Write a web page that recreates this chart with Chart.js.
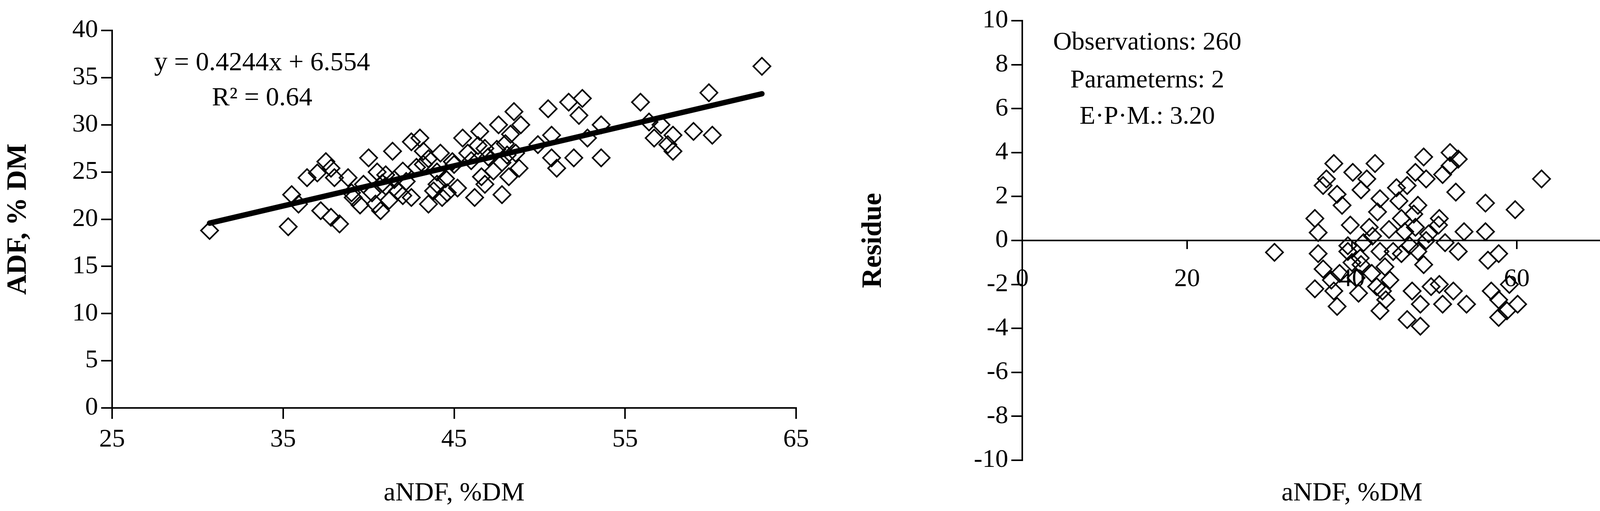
<!DOCTYPE html>
<html>
<head>
<meta charset="utf-8">
<script src="https://cdn.jsdelivr.net/npm/chart.js@4/dist/chart.umd.min.js"></script>
<style>
  body { margin: 0; background: #fff; }
  .box { position: absolute; top: 0; width: 2189px; height: 1309px; }
</style>
</head>
<body>
<div class="box" style="left:0"><canvas id="fitChart" width="2189" height="1309"></canvas></div>
<div class="box" style="left:2189px"><canvas id="resChart" width="2189" height="1309"></canvas></div>
<script>
// ADF vs aNDF observations
const fitX = [30.7,35.3,35.5,35.9,36.4,37,37.5,37.8,38,37.8,38.3,37.2,38.8,39.1,39.7,40,40.4,40.7,41,41.4,41.7,42,42.5,43,43.2,42.5,43.5,44,44.3,44.9,45.2,45.5,46.2,46.5,46.8,46.8,47.3,47.6,47.8,48.1,48.5,48.9,48.8,49.9,50.5,50.7,50.7,51,51.7,52,52.5,52.3,52.8,53.6,53.6,55.9,56.4,56.7,57.1,57.5,57.8,57.8,59,59.9,60.1,63,
  41,41.5,42.2,42.8,43.5,44,44.5,45,45.8,46,46.4,47,47.5,48,48.3,48.2,48.6,39.5,40.2,40.8,39,43.8,44.6,46.6,47.8,42,41.2,40.5,43.2,44.2];
const fitY = [18.8,19.2,22.6,21.6,24.4,24.9,26.1,25.4,24.4,20.2,19.5,20.9,24.4,22.3,23.7,26.5,21.6,20.9,24.7,27.2,23,25.1,28.2,28.6,25.8,22.3,21.6,23.7,22.3,26.1,23.3,28.6,22.3,29.3,27.5,23.7,25.1,30,22.6,26.8,31.4,30,25.4,27.9,31.7,28.9,26.5,25.4,32.4,26.5,32.8,31,28.6,30,26.5,32.4,30.3,28.6,30,27.9,27.2,28.9,29.3,33.4,28.9,36.2,
  23.5,24.2,24,25.5,26.4,25,24.3,25.8,27,26.2,27.8,26.6,27.4,28,29,24.5,27,21.5,22.8,23.8,22.8,23,22.8,24.5,26,22.5,22,25,27.2,27];
// fitted trendline end points
const trendX = [30.7, 63];
const trendY = [19.58, 33.29];

// residuals vs aNDF
const resX = [30.6,35.5,35.9,35.9,35.5,36.5,36.9,37.8,37.5,37.8,38.2,38.2,38.8,39.5,39.5,39.8,40.1,40.5,40.8,41.1,41.1,41.4,41.8,42.1,42.4,42.8,43.1,43.4,43.4,43.4,43.7,44.1,44.6,45,45.4,45.7,46,46.4,46.7,46.7,47,47.3,47.7,47.7,48,48,48.3,48.3,48.7,48.7,49,49.3,49.6,50.6,50.6,51,51,51.3,51.9,51.9,52.3,52.6,52.9,52.9,53.6,53.9,56.2,56.2,56.5,56.9,57.8,57.8,57.8,58.8,59.1,59.8,60.1,63,
  40,41,42.5,44,44.5,46,47.5,49,50.5,43,38.5,36.5];
const resY = [-0.54,1,0.36,-0.6,-2.2,2.5,2.8,3.5,-1.8,-2.3,-3,2.1,1.6,-0.24,-0.5,0.7,3.1,-1.7,-2.4,2.3,-1.1,-0.1,2.8,0.6,-1.5,3.5,1.3,1.9,-0.5,-3.2,-2.3,-2.7,-1.8,-0.5,2.4,1.8,1,0.4,2.5,-3.6,-0.24,-2.3,3.1,0.6,-0.5,1.6,-3.9,-2.9,3.8,-1.1,2.8,0.3,-2.1,-2,1,3,-2.9,-0.1,4,3.4,-2.3,2.2,3.7,-0.5,0.4,-2.9,1.7,0.4,-0.9,-2.3,-0.6,-3.5,-2.7,-3.2,-2,1.4,-2.9,2.8,
  -1,-0.8,0.2,-1.2,0.5,-0.6,1.2,0,0.7,-2.1,-1.5,-1.3];

const fitTicksX = [25, 35, 45, 55, 65];
const fitTicksY = [0, 5, 10, 15, 20, 25, 30, 35, 40];
const resTicksX = [0, 20, 40, 60, 80];
const resTicksY = [-10, -8, -6, -4, -2, 0, 2, 4, 6, 8, 10];

const fitNotes = ['y = 0.4244x + 6.554', 'R² = 0.64'];
const resNotes = ['Observations: 260', 'Parameterns: 2', 'E·P·M.: 3.20'];

Chart.defaults.font.family = '"Liberation Serif", "Times New Roman", serif';
Chart.defaults.color = '#000';

const pts = (xs, ys) => xs.map((x, i) => ({ x: x, y: ys[i] }));

function notesPlugin(lines, cx, ys, size) {
    return {
        id: 'notes',
        afterDraw(chart) {
            const ctx = chart.ctx;
            ctx.save();
            ctx.fillStyle = '#000';
            ctx.font = size + 'px "Liberation Serif", serif';
            ctx.textAlign = 'center';
            ctx.textBaseline = 'middle';
            lines.forEach((t, i) => ctx.fillText(t, cx, ys[i]));
            ctx.restore();
        }
    };
}

const markerStyle = {
    pointStyle: 'rectRot',
    pointRadius: 22,
    pointBorderWidth: 4,
    pointBorderColor: '#000',
    pointBackgroundColor: 'rgba(255,255,255,0)',
    showLine: false
};

function fixedTicks(values) {
    return function (axis) { axis.ticks = values.map(v => ({ value: v })); };
}

new Chart(document.getElementById('fitChart'), {
    type: 'scatter',
    data: {
        datasets: [
            Object.assign({ data: pts(fitX, fitY), order: 2 }, markerStyle),
            {
                data: pts(trendX, trendY),
                showLine: true,
                borderColor: '#000',
                borderWidth: 14,
                borderCapStyle: 'round',
                pointRadius: 0,
                order: 1
            }
        ]
    },
    options: {
        responsive: false,
        animation: false,
        events: [],
        layout: { padding: { top: 78, right: 151, left: 0, bottom: 0 } },
        plugins: { legend: { display: false }, tooltip: { enabled: false } },
        scales: {
            x: {
                type: 'linear', min: 25, max: 65,
                afterBuildTicks: fixedTicks(fitTicksX),
                afterFit: a => { a.height = 264; },
                grid: { drawOnChartArea: false, tickLength: 28, color: '#000', lineWidth: 4 },
                border: { color: '#000', width: 4 },
                ticks: { font: { size: 66 }, padding: 14 },
                title: { display: true, text: 'aNDF, %DM', font: { size: 68 }, padding: { top: 20 } }
            },
            y: {
                type: 'linear', min: 0, max: 40,
                afterBuildTicks: fixedTicks(fitTicksY),
                afterFit: a => { a.width = 287; },
                grid: { drawOnChartArea: false, tickLength: 28, color: '#000', lineWidth: 4 },
                border: { color: '#000', width: 4 },
                ticks: { font: { size: 66 }, padding: 8 },
                title: { display: true, text: 'ADF, % DM', font: { size: 72, weight: 'bold' } }
            }
        }
    },
    plugins: [notesPlugin(fitNotes, 671, [162, 252], 68)]
});

new Chart(document.getElementById('resChart'), {
    type: 'scatter',
    data: { datasets: [Object.assign({ data: pts(resX, resY) }, markerStyle)] },
    options: {
        responsive: false,
        animation: false,
        events: [],
        layout: { padding: { top: 53, right: 38, left: 0, bottom: 0 } },
        plugins: { legend: { display: false }, tooltip: { enabled: false } },
        scales: {
            x: {
                type: 'linear', min: 0, max: 80,
                position: { y: 0 },
                afterBuildTicks: fixedTicks(resTicksX),
                grid: { drawOnChartArea: false, tickLength: 20, color: '#000', lineWidth: 4 },
                border: { color: '#000', width: 4 },
                ticks: { font: { size: 66 }, padding: 40 }
            },
            x2: {
                type: 'linear', min: 0, max: 80,
                position: 'bottom',
                afterFit: a => { a.height = 130; },
                grid: { display: false },
                border: { display: false },
                ticks: { display: false },
                title: { display: true, text: 'aNDF, %DM', font: { size: 68 }, padding: { top: 20 } }
            },
            y: {
                type: 'linear', min: -10, max: 10,
                afterBuildTicks: fixedTicks(resTicksY),
                afterFit: a => { a.width = 428; },
                grid: { drawOnChartArea: false, tickLength: 28, color: '#000', lineWidth: 4 },
                border: { color: '#000', width: 4 },
                ticks: { font: { size: 66 }, padding: 8 },
                title: { display: true, text: 'Residue', font: { size: 72, weight: 'bold' }, padding: { bottom: 80 } }
            }
        }
    },
    plugins: [notesPlugin(resNotes, 748, [110, 207, 300], 66)]
});
</script>
</body>
</html>
